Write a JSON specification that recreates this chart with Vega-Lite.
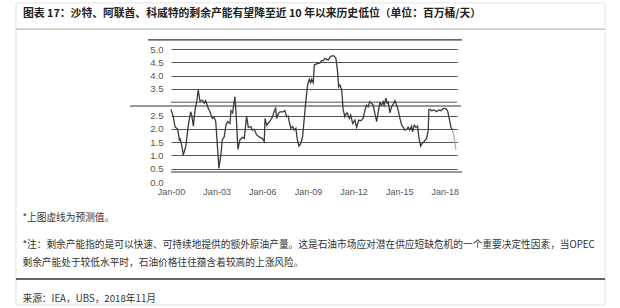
{
  "$schema": "https://vega.github.io/schema/vega-lite/v6.json",
  "width": 286,
  "height": 133,
  "autosize": {"type": "none"},
  "padding": {"left": 171, "top": 49, "right": 163, "bottom": 126},
  "background": "white",
  "config": {"view": {"stroke": null}, "font": "Noto Sans CJK SC"},
  "title": {
    "text": "图表 17：沙特、阿联酋、科威特的剩余产能有望降至近 10 年以来历史低位（单位：百万桶/天）",
    "anchor": "start",
    "frame": "group",
    "dx": -148,
    "offset": 0,
    "dy": 16,
    "font": "Noto Sans CJK SC",
    "fontSize": 10.8,
    "fontWeight": "bold",
    "color": "#222"
  },
  "resolve": {"axis": {"x": "independent", "y": "independent"}},
  "data": {
    "values": [
      {"t": 2000.00, "v": 2.73, "s": "actual"},
      {"t": 2000.15, "v": 2.46, "s": "actual"},
      {"t": 2000.26, "v": 2.08, "s": "actual"},
      {"t": 2000.44, "v": 1.98, "s": "actual"},
      {"t": 2000.55, "v": 1.58, "s": "actual"},
      {"t": 2000.60, "v": 1.62, "s": "actual"},
      {"t": 2000.70, "v": 1.39, "s": "actual"},
      {"t": 2000.81, "v": 1.02, "s": "actual"},
      {"t": 2000.97, "v": 1.33, "s": "actual"},
      {"t": 2001.14, "v": 2.14, "s": "actual"},
      {"t": 2001.29, "v": 2.64, "s": "actual"},
      {"t": 2001.36, "v": 2.52, "s": "actual"},
      {"t": 2001.47, "v": 2.10, "s": "actual"},
      {"t": 2001.58, "v": 2.70, "s": "actual"},
      {"t": 2001.69, "v": 3.02, "s": "actual"},
      {"t": 2001.79, "v": 3.46, "s": "actual"},
      {"t": 2001.91, "v": 3.02, "s": "actual"},
      {"t": 2002.06, "v": 3.08, "s": "actual"},
      {"t": 2002.19, "v": 2.96, "s": "actual"},
      {"t": 2002.28, "v": 3.06, "s": "actual"},
      {"t": 2002.41, "v": 2.83, "s": "actual"},
      {"t": 2002.56, "v": 2.64, "s": "actual"},
      {"t": 2002.71, "v": 2.39, "s": "actual"},
      {"t": 2002.84, "v": 2.43, "s": "actual"},
      {"t": 2002.94, "v": 2.27, "s": "actual"},
      {"t": 2003.07, "v": 1.20, "s": "actual"},
      {"t": 2003.15, "v": 0.51, "s": "actual"},
      {"t": 2003.29, "v": 1.08, "s": "actual"},
      {"t": 2003.37, "v": 1.58, "s": "actual"},
      {"t": 2003.50, "v": 1.70, "s": "actual"},
      {"t": 2003.61, "v": 2.14, "s": "actual"},
      {"t": 2003.73, "v": 2.27, "s": "actual"},
      {"t": 2003.88, "v": 2.20, "s": "actual"},
      {"t": 2003.94, "v": 2.68, "s": "actual"},
      {"t": 2004.05, "v": 2.60, "s": "actual"},
      {"t": 2004.20, "v": 3.21, "s": "actual"},
      {"t": 2004.29, "v": 2.46, "s": "actual"},
      {"t": 2004.40, "v": 1.23, "s": "actual"},
      {"t": 2004.53, "v": 1.58, "s": "actual"},
      {"t": 2004.68, "v": 1.68, "s": "actual"},
      {"t": 2004.82, "v": 1.64, "s": "actual"},
      {"t": 2004.97, "v": 2.48, "s": "actual"},
      {"t": 2005.08, "v": 2.06, "s": "actual"},
      {"t": 2005.26, "v": 2.08, "s": "actual"},
      {"t": 2005.34, "v": 1.95, "s": "actual"},
      {"t": 2005.47, "v": 1.98, "s": "actual"},
      {"t": 2005.63, "v": 1.77, "s": "actual"},
      {"t": 2005.85, "v": 1.68, "s": "actual"},
      {"t": 2006.00, "v": 1.64, "s": "actual"},
      {"t": 2006.13, "v": 1.52, "s": "actual"},
      {"t": 2006.18, "v": 2.39, "s": "actual"},
      {"t": 2006.29, "v": 2.14, "s": "actual"},
      {"t": 2006.39, "v": 2.20, "s": "actual"},
      {"t": 2006.55, "v": 2.33, "s": "actual"},
      {"t": 2006.68, "v": 2.46, "s": "actual"},
      {"t": 2006.77, "v": 2.64, "s": "actual"},
      {"t": 2006.88, "v": 2.77, "s": "actual"},
      {"t": 2006.94, "v": 2.39, "s": "actual"},
      {"t": 2007.05, "v": 2.56, "s": "actual"},
      {"t": 2007.16, "v": 2.64, "s": "actual"},
      {"t": 2007.34, "v": 2.64, "s": "actual"},
      {"t": 2007.49, "v": 2.68, "s": "actual"},
      {"t": 2007.60, "v": 2.46, "s": "actual"},
      {"t": 2007.71, "v": 2.48, "s": "actual"},
      {"t": 2007.77, "v": 2.27, "s": "actual"},
      {"t": 2007.88, "v": 2.02, "s": "actual"},
      {"t": 2008.00, "v": 2.08, "s": "actual"},
      {"t": 2008.10, "v": 1.95, "s": "actual"},
      {"t": 2008.21, "v": 2.02, "s": "actual"},
      {"t": 2008.30, "v": 1.60, "s": "actual"},
      {"t": 2008.41, "v": 1.35, "s": "actual"},
      {"t": 2008.52, "v": 1.43, "s": "actual"},
      {"t": 2008.65, "v": 1.70, "s": "actual"},
      {"t": 2008.76, "v": 2.39, "s": "actual"},
      {"t": 2008.87, "v": 3.08, "s": "actual"},
      {"t": 2008.98, "v": 3.65, "s": "actual"},
      {"t": 2009.09, "v": 3.86, "s": "actual"},
      {"t": 2009.18, "v": 3.73, "s": "actual"},
      {"t": 2009.24, "v": 3.86, "s": "actual"},
      {"t": 2009.35, "v": 3.73, "s": "actual"},
      {"t": 2009.42, "v": 4.40, "s": "actual"},
      {"t": 2009.57, "v": 4.44, "s": "actual"},
      {"t": 2009.68, "v": 4.46, "s": "actual"},
      {"t": 2009.79, "v": 4.48, "s": "actual"},
      {"t": 2009.90, "v": 4.56, "s": "actual"},
      {"t": 2010.01, "v": 4.56, "s": "actual"},
      {"t": 2010.12, "v": 4.65, "s": "actual"},
      {"t": 2010.23, "v": 4.61, "s": "actual"},
      {"t": 2010.34, "v": 4.59, "s": "actual"},
      {"t": 2010.45, "v": 4.69, "s": "actual"},
      {"t": 2010.56, "v": 4.74, "s": "actual"},
      {"t": 2010.71, "v": 4.74, "s": "actual"},
      {"t": 2010.84, "v": 4.65, "s": "actual"},
      {"t": 2010.95, "v": 4.15, "s": "actual"},
      {"t": 2011.02, "v": 3.58, "s": "actual"},
      {"t": 2011.10, "v": 3.65, "s": "actual"},
      {"t": 2011.22, "v": 3.46, "s": "actual"},
      {"t": 2011.32, "v": 2.71, "s": "actual"},
      {"t": 2011.43, "v": 2.46, "s": "actual"},
      {"t": 2011.50, "v": 2.56, "s": "actual"},
      {"t": 2011.58, "v": 2.60, "s": "actual"},
      {"t": 2011.72, "v": 2.39, "s": "actual"},
      {"t": 2011.81, "v": 2.52, "s": "actual"},
      {"t": 2011.94, "v": 2.20, "s": "actual"},
      {"t": 2012.09, "v": 2.33, "s": "actual"},
      {"t": 2012.20, "v": 2.06, "s": "actual"},
      {"t": 2012.35, "v": 2.33, "s": "actual"},
      {"t": 2012.48, "v": 2.30, "s": "actual"},
      {"t": 2012.63, "v": 2.39, "s": "actual"},
      {"t": 2012.75, "v": 2.71, "s": "actual"},
      {"t": 2012.86, "v": 2.89, "s": "actual"},
      {"t": 2012.96, "v": 2.83, "s": "actual"},
      {"t": 2013.07, "v": 3.02, "s": "actual"},
      {"t": 2013.18, "v": 2.96, "s": "actual"},
      {"t": 2013.29, "v": 2.89, "s": "actual"},
      {"t": 2013.40, "v": 2.58, "s": "actual"},
      {"t": 2013.52, "v": 2.27, "s": "actual"},
      {"t": 2013.62, "v": 2.64, "s": "actual"},
      {"t": 2013.73, "v": 2.98, "s": "actual"},
      {"t": 2013.84, "v": 2.89, "s": "actual"},
      {"t": 2013.95, "v": 3.02, "s": "actual"},
      {"t": 2014.01, "v": 2.89, "s": "actual"},
      {"t": 2014.13, "v": 3.15, "s": "actual"},
      {"t": 2014.21, "v": 2.96, "s": "actual"},
      {"t": 2014.28, "v": 3.00, "s": "actual"},
      {"t": 2014.39, "v": 2.60, "s": "actual"},
      {"t": 2014.50, "v": 2.83, "s": "actual"},
      {"t": 2014.61, "v": 2.93, "s": "actual"},
      {"t": 2014.72, "v": 3.06, "s": "actual"},
      {"t": 2014.83, "v": 2.89, "s": "actual"},
      {"t": 2014.93, "v": 2.71, "s": "actual"},
      {"t": 2015.05, "v": 2.39, "s": "actual"},
      {"t": 2015.16, "v": 2.14, "s": "actual"},
      {"t": 2015.26, "v": 2.06, "s": "actual"},
      {"t": 2015.37, "v": 1.95, "s": "actual"},
      {"t": 2015.49, "v": 1.98, "s": "actual"},
      {"t": 2015.59, "v": 2.06, "s": "actual"},
      {"t": 2015.70, "v": 1.95, "s": "actual"},
      {"t": 2015.81, "v": 2.10, "s": "actual"},
      {"t": 2015.88, "v": 1.89, "s": "actual"},
      {"t": 2015.99, "v": 2.14, "s": "actual"},
      {"t": 2016.10, "v": 2.06, "s": "actual"},
      {"t": 2016.21, "v": 2.10, "s": "actual"},
      {"t": 2016.29, "v": 1.70, "s": "actual"},
      {"t": 2016.41, "v": 1.35, "s": "actual"},
      {"t": 2016.51, "v": 1.45, "s": "actual"},
      {"t": 2016.64, "v": 1.52, "s": "actual"},
      {"t": 2016.80, "v": 1.64, "s": "actual"},
      {"t": 2016.91, "v": 1.95, "s": "actual"},
      {"t": 2016.95, "v": 2.71, "s": "actual"},
      {"t": 2017.02, "v": 2.73, "s": "actual"},
      {"t": 2017.13, "v": 2.68, "s": "actual"},
      {"t": 2017.30, "v": 2.71, "s": "actual"},
      {"t": 2017.46, "v": 2.64, "s": "actual"},
      {"t": 2017.61, "v": 2.71, "s": "actual"},
      {"t": 2017.74, "v": 2.68, "s": "actual"},
      {"t": 2017.89, "v": 2.76, "s": "actual"},
      {"t": 2018.05, "v": 2.77, "s": "actual"},
      {"t": 2018.18, "v": 2.68, "s": "actual"},
      {"t": 2018.29, "v": 2.39, "s": "actual"},
      {"t": 2018.40, "v": 2.06, "s": "actual"},
      {"t": 2018.51, "v": 1.95, "s": "actual"},
      {"t": 2018.51, "v": 1.95, "s": "forecast"},
      {"t": 2018.61, "v": 1.70, "s": "forecast"},
      {"t": 2018.73, "v": 1.20, "s": "forecast"}
    ]
  },
  "layer": [
    {
      "data": {"values": [{}]},
      "mark": {"type": "rect", "fill": null, "fillOpacity": 0, "stroke": "#e4e4e4", "strokeWidth": 1, "clip": false},
      "encoding": {
        "x": {"datum": 1989.81, "type": "quantitative", "axis": null},
        "x2": {"datum": 2028.53},
        "y": {"datum": 6.73, "type": "quantitative", "axis": null},
        "y2": {"datum": -4.62}
      }
    },
    {
      "data": {"values": [{}]},
      "mark": {"type": "rule", "color": "#b8b8b8", "strokeWidth": 1.2, "clip": false},
      "encoding": {
        "x": {"datum": 1989.81, "type": "quantitative", "axis": null},
        "x2": {"datum": 2028.53},
        "y": {"datum": 5.75, "type": "quantitative", "axis": null}
      }
    },
    {
      "data": {"values": [{}]},
      "mark": {"type": "rule", "color": "#333", "strokeWidth": 1.5, "clip": false},
      "encoding": {
        "x": {"datum": 1989.81, "type": "quantitative", "axis": null},
        "x2": {"datum": 2028.53},
        "y": {"datum": -3.65, "type": "quantitative", "axis": null}
      }
    },
    {
      "data": {"values": [{}]},
      "mark": {"type": "rule", "color": "#333", "strokeWidth": 1.2, "clip": false},
      "encoding": {
        "x": {"datum": 1998.49, "type": "quantitative", "axis": null},
        "x2": {"datum": 2019.13},
        "y": {"datum": 5.34, "type": "quantitative", "axis": null}
      }
    },
    {
      "data": {"values": [{}]},
      "mark": {"type": "rule", "color": "#555", "strokeWidth": 1, "clip": false},
      "encoding": {
        "x": {"datum": 2000.0, "type": "quantitative", "axis": null},
        "x2": {"datum": 2018.8},
        "y": {"datum": 3.0, "type": "quantitative", "axis": null}
      }
    },
    {
      "data": {"values": [{}]},
      "mark": {"type": "rule", "color": "#333", "strokeWidth": 1.2, "clip": false},
      "encoding": {
        "x": {"datum": 1997.3, "type": "quantitative", "axis": null},
        "x2": {"datum": 2019.07},
        "y": {"datum": 2.857, "type": "quantitative", "axis": null}
      }
    },
    {
      "data": {"values": [{}]},
      "mark": {"type": "rule", "color": "#333", "strokeWidth": 1.2, "clip": false},
      "encoding": {
        "x": {"datum": 2000.0, "type": "quantitative", "axis": null},
        "x2": {"datum": 2019.13},
        "y": {"datum": 0.376, "type": "quantitative", "axis": null}
      }
    },
    {
      "mark": {"type": "line", "strokeWidth": 1.3, "clip": false},
      "encoding": {
        "x": {
          "field": "t",
          "type": "quantitative",
          "scale": {"domain": [2000, 2018.8], "nice": false, "zero": false},
          "axis": {
            "values": [2000, 2003, 2006, 2009, 2012, 2015, 2018],
            "labelExpr": "'Jan-' + (datum.value % 100 < 10 ? '0' : '') + (datum.value % 100)",
            "grid": false,
            "domain": false,
            "ticks": false,
            "labelPadding": 5,
            "labelFont": "Liberation Sans",
            "labelFontSize": 9,
            "labelColor": "#555",
            "labelBound": false,
            "labelFlush": false,
            "labelOverlap": false,
            "title": ["*上图虚线为预测值。", "\u200b", "\u200c", "*注：剩余产能指的是可以快速、可持续地提供的额外原油产量。这是石油市场应对潜在供应短缺危机的一个重要决定性因素，当OPEC", "\u200d", "剩余产能处于较低水平时，石油价格往往蕴含着较高的上涨风险。"],
            "titleFont": "Noto Sans CJK SC",
            "titleFontSize": 9.7,
            "titleFontWeight": "normal",
            "titleColor": "#333",
            "titleAlign": "left",
            "titleAnchor": "start",
            "titleX": -149,
            "titleY": 38.5,
            "titleBaseline": "alphabetic",
            "titleLineHeight": 9
          }
        },
        "y": {
          "field": "v",
          "type": "quantitative",
          "scale": {"domain": [0, 5], "nice": false},
          "axis": {
            "values": [0, 0.5, 1, 1.5, 2, 2.5, 3.5, 4, 4.5, 5],
            "format": ".1f",
            "labelOverlap": false,
            "grid": true,
            "gridColor": {"condition": {"test": "datum.value == 0", "value": "transparent"}, "value": "#555"},
            "gridWidth": 1,
            "domain": false,
            "ticks": false,
            "labelPadding": 8,
            "labelFont": "Liberation Sans",
            "labelFontSize": 9.5,
            "labelColor": "#555",
            "title": "来源：IEA，UBS，2018年11月",
            "titleAngle": 0,
            "titleAlign": "left",
            "titleBaseline": "alphabetic",
            "titleX": -149,
            "titleY": 252,
            "titleFont": "Noto Sans CJK SC",
            "titleFontSize": 9.7,
            "titleFontWeight": "normal",
            "titleColor": "#333"
          }
        },
        "color": {
          "field": "s",
          "type": "nominal",
          "scale": {"domain": ["actual", "forecast"], "range": ["#3a3a3a", "#b0b0b0"]},
          "legend": null
        }
      }
    }
  ]
}
